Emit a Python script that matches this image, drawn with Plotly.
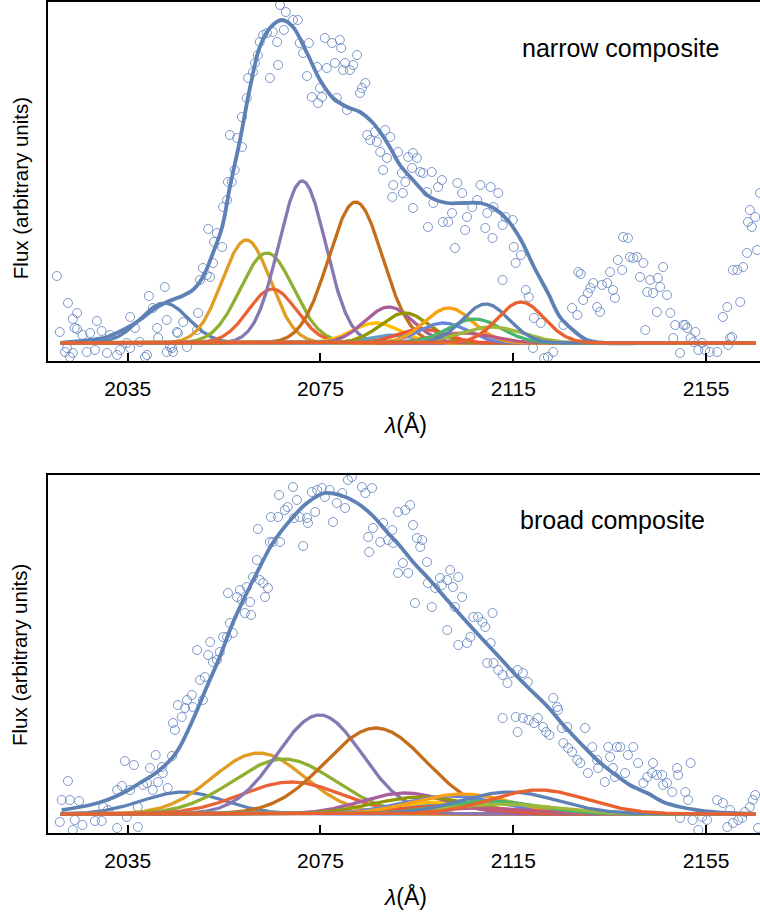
import numpy as np
import plotly.graph_objects as go

# ---------------- data ----------------
wavelength_ticks = [2035, 2075, 2115, 2155]

component_colors = ["#5E81B5", "#E19C24", "#8FB032", "#EB6235", "#8778B3", "#C56E1A",
                    "#5D9EC7", "#FFBF00", "#A5609D", "#929600", "#E95536", "#6685D9",
                    "#F89F13", "#BC5B80", "#47B66D", "#9DB83A", "#5E81B5", "#E9612F"]

# narrow composite: gaussian components (centre [A], amplitude [arb.], sigma [A])
narrow_centers = [2042.6, 2059.6, 2063.9, 2065.0, 2071.2, 2082.3, 2090.0, 2086.5, 2089.2,
                  2092.5, 2096.0, 2100.5, 2101.6, 2104.5, 2107.0, 2110.5, 2109.3, 2116.6]
narrow_amps = [40, 103, 90, 54, 162, 141, 8, 20, 36, 30, 14, 20, 35, 10, 24, 16, 39, 41]
narrow_sigmas = [5.0, 5.0, 5.5, 5.0, 4.9, 5.6, 5.0, 5.0, 5.0, 5.0, 5.0, 5.0, 5.0, 6.0,
                 5.5, 6.5, 4.8, 4.8]

# narrow composite: total fit
narrow_fit_wl = [2021.1, 2027.2, 2030.7, 2034.0, 2037.5, 2040.2, 2043.1, 2045.8, 2048.5,
                 2050.6, 2052.7, 2054.6, 2056.2, 2058.3, 2060.4, 2062.4, 2064.5, 2067.0,
                 2069.3, 2072.2, 2074.9, 2077.6, 2080.5, 2083.2, 2085.9, 2087.8, 2089.5,
                 2091.5, 2094.2, 2097.7, 2101.3, 2104.6, 2108.2, 2110.9, 2113.8, 2116.6,
                 2119.3, 2122.2, 2124.7, 2127.4, 2130.3, 2134.4, 2145.0, 2155.0, 2165.2]
narrow_fit_flux = [0, 3, 6, 13, 23, 33, 41, 46, 53, 66, 90, 116, 156, 203, 256, 296, 315,
                   323, 316, 290, 263, 245, 236, 231, 220, 208, 195, 178, 163, 146, 140,
                   140, 140, 135, 123, 103, 76, 50, 26, 13, 3, 0, 0, 0, 0]

# narrow composite: observed points
narrow_obs_wl = [
    2020.3, 2020.9, 2022.6, 2023.6, 2024.5, 2024.0, 2025.6, 2027.2, 2022.0, 2023.0, 2026.5,
    2028.6, 2029.6, 2028.2, 2030.7, 2033.4, 2034.8, 2035.5, 2036.5, 2037.5, 2038.6, 2039.4,
    2040.2, 2041.1, 2041.3, 2042.7, 2043.1, 2043.8, 2044.4, 2045.4, 2046.5, 2047.3, 2049.4,
    2049.6, 2050.0, 2050.6, 2051.4, 2052.1, 2052.7, 2051.7, 2052.9, 2053.5, 2054.6, 2054.8,
    2055.6, 2055.8, 2056.6, 2057.2, 2056.2, 2057.7, 2058.7, 2058.7, 2059.7, 2060.0, 2061.0,
    2061.4, 2062.0, 2062.4, 2063.1, 2063.9, 2065.1, 2064.5, 2066.2, 2066.0, 2066.6, 2067.8,
    2067.4, 2069.3, 2070.3, 2070.7, 2071.4, 2072.6, 2072.2, 2073.2, 2074.3, 2074.5, 2075.3,
    2074.9, 2075.9, 2076.3, 2077.4, 2078.0, 2079.0, 2079.3, 2079.7, 2080.1, 2081.1, 2081.8,
    2082.6, 2083.2, 2083.6, 2084.3, 2080.5, 2078.4, 2084.7, 2085.3, 2086.3, 2086.7, 2087.4,
    2088.4, 2088.8, 2089.5, 2088.0, 2090.1, 2089.9, 2091.1, 2093.2, 2094.2, 2095.0, 2094.0,
    2091.9, 2092.6, 2095.7, 2098.1, 2096.3, 2092.1, 2094.2, 2097.1, 2098.4, 2099.4, 2100.2,
    2097.3, 2100.4, 2101.5, 2102.3, 2103.4, 2104.4, 2105.0, 2105.4, 2106.5, 2107.5, 2108.2,
    2109.2, 2109.6, 2110.3, 2110.9, 2111.9, 2110.7, 2102.9, 2112.8, 2113.4, 2114.9, 2115.1,
    2115.5, 2116.6, 2112.8, 2117.6, 2118.2, 2119.3, 2120.7, 2123.3, 2119.1, 2122.2, 2125.4,
    2127.2, 2128.3, 2128.5, 2129.0, 2129.5, 2130.5, 2131.0, 2131.6, 2132.4, 2133.0, 2133.4,
    2134.5, 2135.1, 2135.7, 2136.1, 2136.7, 2137.6, 2137.8, 2138.8, 2139.2, 2139.9, 2140.7,
    2141.3, 2142.0, 2142.8, 2142.4, 2143.4, 2144.0, 2145.0, 2145.5, 2146.1, 2146.9, 2144.8,
    2147.6, 2148.6, 2148.2, 2149.6, 2150.3, 2151.1, 2152.8, 2152.4, 2153.4, 2154.8, 2155.8,
    2157.3, 2158.5, 2159.4, 2160.4, 2160.6, 2161.5, 2162.1, 2162.7, 2163.5, 2163.7, 2164.5,
    2164.1, 2165.2, 2165.6, 2166.2, 2024.5, 2031.3, 2022.4, 2023.6, 2032.8, 2035.5, 2039.0,
    2043.1, 2044.2, 2045.2, 2121.4, 2151.8, 2154.2, 2160.0, 2159.6, 2150.7]
narrow_obs_flux = [
    67, 11, 40, 24, 30, 15, 8, 10, -9, -14, -9,
    22, 12, -7, -10, -7, 0, 26, 15, 1, -14, 47,
    35, 15, 5, 56, 23, -4, -9, 10, 21, -4, 13,
    30, 63, 75, 68, 66, 80, 114, 101, 110, 96, 136,
    143, 161, 161, 173, 208, 205, 196, 226, 245, 265, 271,
    280, 288, 301, 308, 310, 311, 265, 278, 301, 338, 331,
    313, 323, 323, 300, 290, 300, 267, 246, 276, 240, 246,
    255, 305, 275, 300, 280, 303, 295, 273, 280, 273, 278,
    288, 250, 255, 260, 233, 245, 208, 203, 211, 201, 191,
    213, 185, 206, 173, 158, 146, 191, 186, 190, 185, 175,
    170, 161, 171, 171, 170, 150, 135, 151, 140, 156, 163,
    116, 121, 121, 130, 160, 150, 113, 126, 136, 143, 158,
    115, 130, 156, 136, 150, 105, 95, 118, 126, 123, 96,
    80, 88, 63, 53, 46, 25, 20, -9, -5, -14, 18,
    35, 28, 71, 69, 43, 50, 55, 60, 36, 31, 58,
    60, 71, 53, 45, 83, 73, 106, 105, 86, 85, 86,
    66, 80, 51, 13, 63, 50, 65, 56, 76, 48, 31,
    30, 18, 5, -10, 18, 15, 11, 1, -7, -7, -9,
    -9, 26, 36, 6, 73, 73, 41, 76, 90, 121, 116,
    133, 126, 93, 150, 14, 8, -5, -10, -12, -5, -12,
    -9, -5, 11, -15, 5, 0, 5, -2, 18]

# broad composite: gaussian components
broad_centers = [2046.5, 2062.2, 2067.4, 2069.0, 2074.8, 2086.5, 2098.0, 2100.0, 2092.5,
                 2096.0, 2100.0, 2102.0, 2104.5, 2108.0, 2110.0, 2113.0, 2114.2, 2120.3]
broad_amps = [22, 61, 55, 32, 99, 86, 10, 12, 21, 17, 8, 18, 20, 6, 13, 10, 22, 24]
broad_sigmas = [8.5, 9.5, 10.5, 10.5, 8.8, 10.5, 10.0, 10.0, 9.0, 10.0, 10.0, 10.0, 10.0,
                10.0, 10.0, 11.0, 10.0, 10.0]

# broad composite: total fit
broad_fit_wl = [2021.3, 2027.2, 2030.7, 2034.0, 2037.5, 2041.1, 2044.4, 2045.8, 2048.5,
                2051.4, 2054.1, 2056.8, 2059.7, 2062.4, 2065.1, 2069.3, 2072.2, 2075.9,
                2079.0, 2082.6, 2085.9, 2088.8, 2091.5, 2094.2, 2097.7, 2101.3, 2104.6,
                2108.2, 2111.7, 2115.1, 2118.6, 2122.2, 2125.4, 2128.9, 2132.4, 2135.7,
                2139.2, 2142.8, 2146.1, 2149.6, 2153.2, 2156.5, 2160.0, 2165.2]
broad_fit_flux = [4, 9, 14, 21, 31, 42, 57, 67, 94, 127, 157, 191, 221, 247, 271, 297, 311,
                  321, 319, 311, 298, 282, 268, 252, 234, 214, 196, 177, 159, 141, 124, 107,
                  89, 71, 54, 41, 29, 21, 12, 7, 4, 2, 1, 0]

# broad composite: observed points
broad_obs_wl = [
    2020.9, 2021.3, 2022.6, 2023.0, 2024.0, 2023.6, 2024.9, 2025.6, 2028.2, 2029.6, 2029.9,
    2030.9, 2032.8, 2032.8, 2033.8, 2034.4, 2035.5, 2034.8, 2036.3, 2037.1, 2037.1, 2038.2,
    2039.0, 2039.6, 2040.2, 2040.8, 2041.3, 2042.1, 2042.3, 2044.2, 2043.3, 2044.8, 2044.4,
    2045.4, 2046.2, 2046.9, 2047.3, 2048.3, 2048.5, 2049.4, 2050.0, 2050.6, 2051.0, 2051.7,
    2052.1, 2052.7, 2053.5, 2054.1, 2054.8, 2055.6, 2056.2, 2056.8, 2055.8, 2057.7, 2058.3,
    2058.7, 2059.3, 2060.4, 2059.7, 2060.6, 2061.0, 2061.8, 2062.4, 2063.1, 2063.5, 2064.1,
    2062.0, 2064.5, 2065.1, 2066.6, 2064.7, 2066.2, 2066.4, 2067.6, 2068.2, 2069.3, 2069.5,
    2070.1, 2070.7, 2071.4, 2072.2, 2072.4, 2073.2, 2073.9, 2074.3, 2075.3, 2075.9, 2076.9,
    2077.6, 2078.4, 2079.5, 2080.1, 2080.7, 2081.5, 2083.6, 2084.3, 2085.7, 2084.9, 2085.1,
    2085.9, 2087.4, 2088.0, 2089.0, 2089.9, 2090.1, 2091.1, 2091.1, 2092.6, 2093.6, 2094.2,
    2095.0, 2096.1, 2095.7, 2097.1, 2092.1, 2093.2, 2094.6, 2098.1, 2097.3, 2098.8, 2099.8,
    2100.2, 2101.3, 2101.9, 2102.5, 2103.6, 2104.4, 2102.9, 2101.3, 2103.6, 2105.4, 2106.1,
    2106.7, 2107.7, 2108.6, 2109.2, 2110.7, 2110.3, 2109.6, 2110.9, 2111.9, 2112.8, 2113.8,
    2114.5, 2115.9, 2117.0, 2118.0, 2112.8, 2115.5, 2115.9, 2117.0, 2118.2, 2119.3, 2120.1,
    2121.2, 2121.8, 2122.5, 2123.3, 2124.1, 2124.3, 2125.1, 2126.2, 2125.4, 2126.4, 2127.2,
    2128.3, 2128.9, 2129.9, 2130.5, 2131.4, 2132.4, 2132.6, 2134.0, 2134.7, 2135.1, 2135.7,
    2136.5, 2137.2, 2136.1, 2138.2, 2138.8, 2139.9, 2140.9, 2142.0, 2142.8, 2143.8, 2144.0,
    2144.8, 2145.9, 2146.1, 2146.9, 2148.0, 2149.0, 2149.2, 2150.7, 2151.8, 2151.3, 2149.6,
    2152.2, 2153.4, 2154.2, 2155.2, 2157.3, 2158.5, 2160.0, 2159.4, 2160.6, 2161.7, 2162.5,
    2163.1, 2164.1, 2164.7, 2165.2, 2165.8]
broad_obs_flux = [
    -8, 14, 33, 14, -6, -16, 13, -11, -7, -7, 7,
    4, 24, -14, 28, 53, 24, -3, 49, -13, 7, 29,
    31, 46, 24, 59, 32, 47, 41, 58, 26, 84, 91,
    109, 97, 106, 114, 119, 107, 164, 134, 114, 137, 159,
    172, 152, 154, 162, 177, 177, 191, 181, 221, 217, 224,
    214, 201, 212, 227, 199, 237, 254, 234, 231, 217, 226,
    285, 272, 272, 272, 297, 297, 319, 304, 307, 327, 296,
    314, 297, 268, 296, 291, 322, 302, 324, 326, 317, 324,
    292, 311, 321, 306, 334, 337, 327, 321, 326, 277, 262,
    286, 272, 291, 274, 284, 271, 302, 241, 304, 309, 289,
    276, 274, 267, 252, 251, 241, 211, 207, 231, 226, 236,
    229, 234, 244, 227, 237, 217, 207, 184, 169, 171, 177,
    197, 197, 192, 187, 201, 171, 151, 151, 144, 139, 131,
    141, 144, 141, 132, 96, 97, 82, 96, 94, 91, 96,
    87, 82, 79, 116, 107, 104, 86, 87, 71, 66, 62,
    54, 51, 86, 41, 67, 54, 46, 32, 67, 57, 46,
    67, 67, 37, 41, 59, 67, 51, 31, 37, 41, 51,
    39, 39, 29, 31, 22, 46, 39, 22, 51, 14, -4,
    -6, -16, -3, -6, 14, 11, 4, -13, -9, -6, -4,
    2, 7, 14, 19, -14]

# ---------------- figure ----------------
curve_grid = np.linspace(2021.1, 2165.2, 900)


def gaussian(center, amp, sigma):
    return amp * np.exp(-0.5 * ((curve_grid - center) / sigma) ** 2)


fig = go.Figure()

panels = [
    ("x", "y", narrow_obs_wl, narrow_obs_flux, narrow_fit_wl, narrow_fit_flux,
     narrow_centers, narrow_amps, narrow_sigmas),
    ("x2", "y2", broad_obs_wl, broad_obs_flux, broad_fit_wl, broad_fit_flux,
     broad_centers, broad_amps, broad_sigmas),
]

for xa, ya, owl, ofl, fwl, ffl, cen, amp, sig in panels:
    fig.add_trace(go.Scatter(
        x=owl, y=ofl, mode="markers", xaxis=xa, yaxis=ya, showlegend=False,
        marker=dict(symbol="circle-open", size=9, color="rgba(100,134,192,0.85)",
                    line=dict(width=1))))
    fig.add_trace(go.Scatter(
        x=fwl, y=ffl, mode="lines", xaxis=xa, yaxis=ya, showlegend=False,
        line=dict(color="#5E81B5", width=3.8, shape="spline", smoothing=1.0)))
    for c, a, s, col in zip(cen, amp, sig, component_colors):
        fig.add_trace(go.Scatter(
            x=curve_grid, y=gaussian(c, a, s), mode="lines", xaxis=xa, yaxis=ya,
            showlegend=False, line=dict(color=col, width=3.3)))

FONT = "Liberation Sans, Arial, sans-serif"
x_common = dict(range=[2018.46, 2166.2], tickvals=wavelength_ticks, ticks="inside",
                ticklen=8, tickwidth=2, tickcolor="black", showline=True,
                linecolor="black", linewidth=2, mirror=True, showgrid=False,
                zeroline=False, tickfont=dict(family=FONT, size=21, color="black"),
                ticklabelstandoff=8)
y_common = dict(showline=True, linecolor="black", linewidth=2, mirror=False,
                showgrid=False, zeroline=False, showticklabels=False, ticks="")

ann_common = dict(xref="paper", yref="paper", showarrow=False, xanchor="center",
                  yanchor="middle")

fig.update_layout(
    width=760, height=922,
    margin=dict(l=48, r=0, t=2, b=89),
    plot_bgcolor="white", paper_bgcolor="white",
    xaxis=dict(domain=[0, 1], anchor="y", **x_common),
    yaxis=dict(domain=[0.568, 1.0], anchor="x", range=[-18, 341], **y_common),
    xaxis2=dict(domain=[0, 1], anchor="y2", **x_common),
    yaxis2=dict(domain=[0, 0.4308], anchor="x2", range=[-19, 339], **y_common),
    annotations=[
        dict(text="narrow composite", x=0.8034, y=0.9446,
             font=dict(family=FONT, size=25, color="black"), **ann_common),
        dict(text="broad composite", x=0.7935, y=0.3767,
             font=dict(family=FONT, size=25, color="black"), **ann_common),
        dict(text="<i>λ</i>(Å)", x=0.5014, y=0.491,
             font=dict(family=FONT, size=23, color="black"), **ann_common),
        dict(text="<i>λ</i>(Å)", x=0.5014, y=-0.077,
             font=dict(family=FONT, size=23, color="black"), **ann_common),
        dict(text="Flux (arbitrary units)", x=-0.0393, y=0.776, textangle=-90,
             font=dict(family=FONT, size=20.5, color="black"), **ann_common),
        dict(text="Flux (arbitrary units)", x=-0.0393, y=0.2142, textangle=-90,
             font=dict(family=FONT, size=20.5, color="black"), **ann_common),
    ],
)

fig.write_html(
    "out.html",
    config={"displayModeBar": False},
    post_script="document.body.style.margin='0px';document.body.style.overflow='hidden';",
)
